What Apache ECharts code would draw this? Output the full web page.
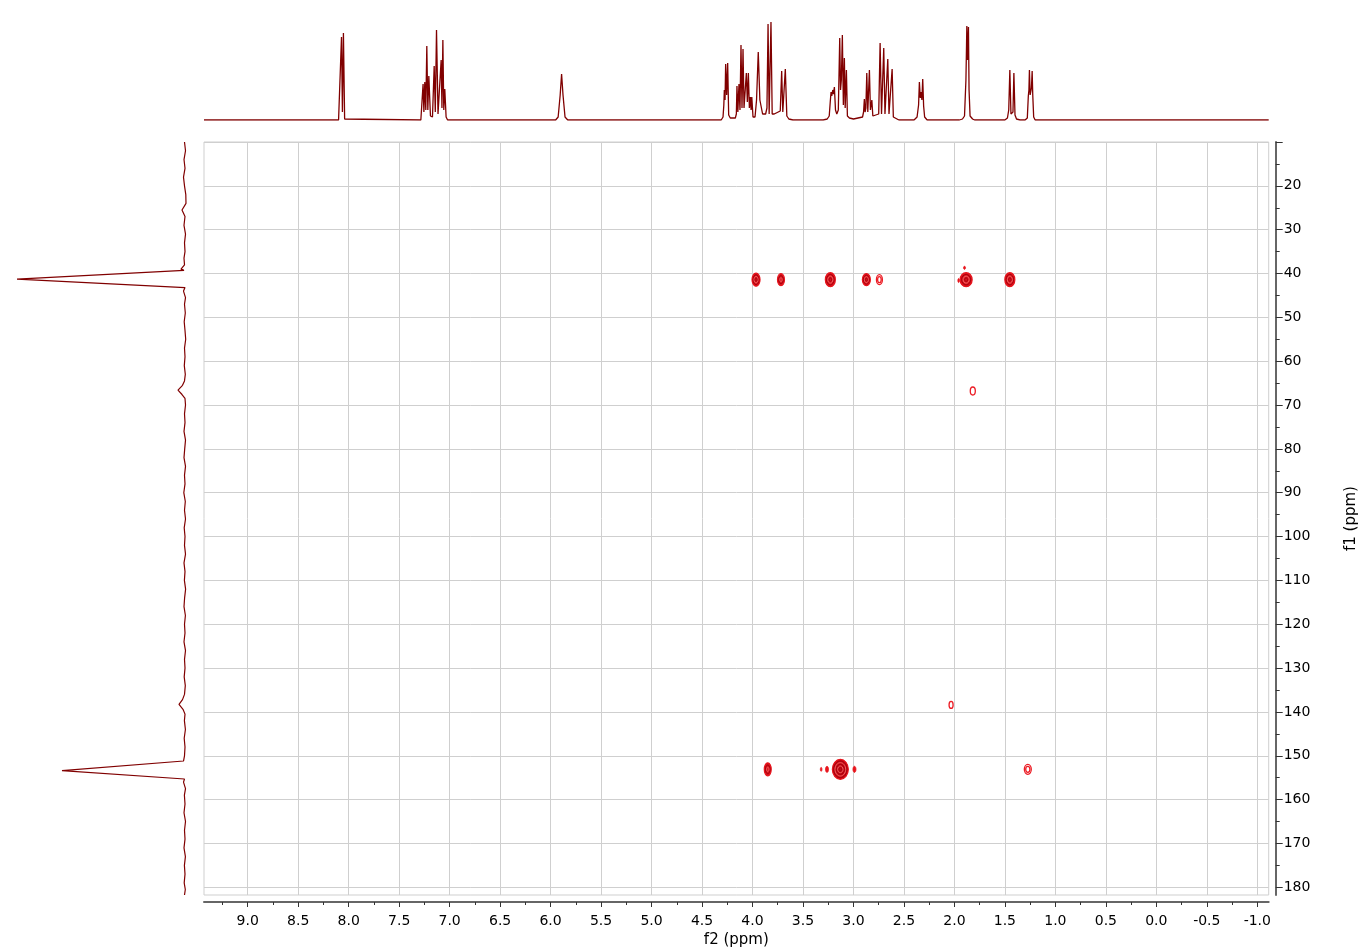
<!DOCTYPE html>
<html><head><meta charset="utf-8">
<script src="https://cdn.jsdelivr.net/npm/echarts@6/dist/echarts.min.js"></script>
<style>html,body{margin:0;padding:0;background:#fff}#c{width:1360px;height:949px}</style>
</head><body><div id="c"></div>
<script>
// ---- axis ranges / ticks ----
const f2Range = [-1.113, 9.433];
const f1Range = [10, 181.76];
const f2Ticks = [9.0,8.5,8.0,7.5,7.0,6.5,6.0,5.5,5.0,4.5,4.0,3.5,3.0,2.5,2.0,1.5,1.0,0.5,0.0,-0.5,-1.0];
const f2MinorTicks = [9.25,8.75,8.25,7.75,7.25,6.75,6.25,5.75,5.25,4.75,4.25,3.75,3.25,2.75,2.25,1.75,1.25,0.75,0.25,-0.25,-0.75];
const f1Ticks = [10,20,30,40,50,60,70,80,90,100,110,120,130,140,150,160,170,180];
const f1Labels = [20,30,40,50,60,70,80,90,100,110,120,130,140,150,160,170,180];
const f1MinorTicks = [15,25,35,45,55,65,75,85,95,105,115,125,135,145,155,165,175];

// ---- 1H projection (top): [ppm, intensity] vertices ----
const protonTrace = [
 [9.433,0],[8.10,0],[8.085,1],[8.071,83],[8.062,8],[8.052,87],[8.040,1],[8.025,0],
 [7.285,0],[7.272,2],[7.263,36],[7.255,8],[7.246,38],[7.236,10],[7.226,74],[7.216,10],[7.206,44],[7.19,4],[7.17,3],[7.153,54],[7.142,8],[7.130,90],[7.115,6],[7.100,4],[7.084,60],[7.076,12],[7.067,80],[7.058,10],[7.048,31],[7.035,3],[7.02,0],
 [5.95,0],[5.925,3],[5.905,25],[5.891,46],[5.877,25],[5.857,3],[5.83,0],
 [4.31,0],[4.292,3],[4.284,15],[4.279,30],[4.272,20],[4.266,56],[4.256,25],[4.246,57],[4.236,5],[4.22,2],
 [4.17,2],[4.160,6],[4.154,34],[4.145,8],[4.134,36],[4.124,10],[4.114,75],[4.104,12],[4.094,71],[4.084,12],[4.075,14],[4.061,47],[4.051,18],[4.041,47],[4.031,12],[4.021,23],[4.014,10],[4.007,23],[3.995,3],[3.975,3],[3.960,20],[3.943,68],[3.927,20],[3.900,6],[3.870,6],[3.857,12],[3.846,96],[3.835,6],[3.827,8],[3.817,98],[3.805,6],[3.785,6],[3.725,9],[3.711,49],[3.700,8],[3.690,7],[3.675,51],[3.660,4],[3.64,1],[3.60,0],
 [3.30,0],[3.26,1],[3.240,4],[3.230,18],[3.222,28],[3.215,24],[3.205,30],[3.197,26],[3.189,33],[3.178,10],[3.165,6],[3.150,10],[3.136,82],[3.128,30],[3.120,40],[3.110,85],[3.100,15],[3.090,62],[3.082,12],[3.070,50],[3.060,4],[3.040,2],
 [3.00,1],[2.910,3],[2.900,8],[2.892,21],[2.885,8],[2.877,12],[2.868,47],[2.858,8],[2.850,10],[2.842,50],[2.832,10],[2.818,20],[2.808,4],[2.790,3],[2.750,6],[2.736,77],[2.722,6],[2.712,6],[2.700,72],[2.688,6],[2.675,6],[2.660,61],[2.648,6],[2.632,4],[2.617,51],[2.605,3],[2.590,1],[2.55,0],
 [2.40,0],[2.370,3],[2.355,15],[2.347,38],[2.338,22],[2.330,28],[2.322,20],[2.314,41],[2.305,14],[2.295,3],[2.27,0],
 [1.95,0],[1.920,1],[1.900,4],[1.886,40],[1.880,75],[1.877,94],[1.870,60],[1.861,93],[1.855,30],[1.845,4],[1.82,1],[1.80,0],
 [1.50,0],[1.475,2],[1.462,10],[1.451,50],[1.440,6],[1.430,4],[1.420,8],[1.411,47],[1.400,5],[1.385,1],[1.35,0],
 [1.30,0],[1.278,2],[1.268,24],[1.262,30],[1.257,50],[1.250,25],[1.244,23],[1.237,32],[1.230,49],[1.224,25],[1.215,3],[1.20,0],
 [-1.113,0]
];

// ---- 13C projection (left): [intensity, ppm] vertices ----
const carbonTrace = [
 [0.5,10],[-0.5,12],[1,14],[0,16],[1.5,18],[0.5,20],[-0.8,22],[-1,24],[3,25.5],[0,27],[1,29],[-0.5,31],[0.5,33],[0,35],[1,36.5],[0.5,38],[4,39],[1,39.3],[2,39.7],
 [168,41.3],[0,43.2],[1.5,44],[-0.5,45.5],[0.5,47],[-0.3,49],[0.8,51],[0,53],[-0.7,55],[0.5,57],[0,59],[0.7,61],[-0.3,63],[0.5,64.5],[2.5,65.5],[7,66.6],[3,67.6],[0,68.5],
 [-0.5,70],[0.5,72],[0,74],[1,76],[-0.5,78],[0.3,80],[1,82],[-0.5,84],[0.5,86],[0,88],[1.2,90],[-0.3,92],[0.5,94],[-0.5,96],[0.8,98],[0,100],[0.5,102],[-0.5,104],[1,106],[0,108],[0.6,110],[-0.6,112],[0.4,114],[1,116],[-0.4,118],[0.5,120],[0,122],[1,124],[-0.5,126],[0.5,128],[0,130],[0.8,132],[-0.3,134],[0.5,136],[2.5,137.2],[6,138.3],[2,139.4],[0,140.5],
 [0.6,142],[-0.4,144],[0.8,146],[0,148],[0.5,150],[1.5,151.2],[123,153.4],[0.5,155.3],[1.5,156],[-0.5,157.5],[0.6,159],[0,161],[1,163],[-0.5,165],[0.5,167],[0,169],[1,171],[-0.4,173],[0.6,175],[0,177],[0.8,179],[-0.3,180.5],[0.5,181.76]
];

// ---- 2D cross peaks: [f2 ppm, f1 ppm, width f2 (ppm), width f1 (ppm), contour levels] ----
const crossPeaks = [
 [3.965,41.4,0.079,2.97,4],
 [3.718,41.4,0.069,2.74,3],
 [3.229,41.4,0.099,3.19,4],
 [2.872,41.4,0.079,2.74,4],
 [2.743,41.4,0.059,2.28,2],
 [1.884,41.4,0.119,3.19,4],
 [1.451,41.4,0.099,3.19,4],
 [3.849,153.1,0.069,2.97,3],
 [3.130,153.1,0.158,4.56,6],
 [1.273,153.1,0.069,2.28,2],
 [1.818,66.8,0.050,1.83,1],
 [2.033,138.4,0.040,1.60,1]
];
// small fragments around strong peaks
const crossFragments = [
 [1.900,38.7,0.02,0.7],[1.958,41.6,0.015,0.9],
 [3.320,153.1,0.015,0.9],[3.262,153.1,0.03,1.4],[2.990,153.1,0.03,1.4]
];

const font = 'DejaVu Sans';
const chart = echarts.init(document.getElementById('c'), null, {renderer:'canvas'});

function renderPeak(params, api) {
  const c = api.coord([api.value(0), api.value(1)]);
  const s = api.size([api.value(2), api.value(3)]);
  const n = api.value(4);
  const rx = s[0]/2, ry = s[1]/2;
  const children = [];
  if (n >= 3) {
    children.push({type:'ellipse', shape:{cx:c[0], cy:c[1], rx:rx, ry:ry},
      style:{fill: n >= 5 ? '#c80c14' : '#d8141c', stroke:'#e8141c', lineWidth:1.2}});
    for (let i = 1; i < n; i++) {
      const f = 1 - i / n;
      children.push({type:'ellipse', shape:{cx:c[0], cy:c[1], rx:rx*f, ry:ry*f},
        style:{fill:null, stroke: i % 2 ? '#a8000e' : '#f06060', lineWidth:1}});
    }
  } else {
    for (let i = 0; i < n; i++) {
      const f = 1 - i / (n + 0.5);
      children.push({type:'ellipse', shape:{cx:c[0], cy:c[1], rx:rx*f, ry:ry*f},
        style:{fill:null, stroke:'#ec1c24', lineWidth:1.3}});
    }
  }
  return {type:'group', children};
}
function renderFrag(params, api) {
  const c = api.coord([api.value(0), api.value(1)]);
  const s = api.size([api.value(2), api.value(3)]);
  return {type:'ellipse', shape:{cx:c[0], cy:c[1], rx:Math.max(s[0]/2,0.8), ry:s[1]/2},
    style:{fill:'#e8141c', stroke:'#e8141c', lineWidth:0.8}};
}

const axisLineStyle = {color:'#666', width:2};
const tickStyle = {color:'#333', width:1};
const labelStyle = {color:'#000', fontFamily:font, fontSize:14};

chart.setOption({
  animation:false,
  backgroundColor:'#fff',
  grid:[
    {left:204, right:91.3, top:142, bottom:54, show:true, borderColor:'#cfcfcf', borderWidth:1, backgroundColor:'#fff', containLabel:false, outerBoundsMode:'none'},
    {left:204, right:91.3, top:20, bottom:829, containLabel:false, outerBoundsMode:'none'},
    {left:0, right:1175, top:142, bottom:54, containLabel:false, outerBoundsMode:'none'}
  ],
  xAxis:[
    {type:'value', gridIndex:0, min:f2Range[0], max:f2Range[1], inverse:true, position:'bottom', offset:7,
     axisLine:{show:true, onZero:false, lineStyle:axisLineStyle},
     axisTick:{show:true, length:5, lineStyle:tickStyle, customValues:f2Ticks},
     axisLabel:{show:true, margin:12, formatter:v=>v.toFixed(1), customValues:f2Ticks, ...labelStyle},
     splitLine:{show:true, lineStyle:{color:'#cfcfcf', width:1}},
     name:'f2 (ppm)', nameLocation:'middle', nameGap:30,
     nameTextStyle:{color:'#000', fontFamily:font, fontSize:15}},
    {type:'value', gridIndex:0, min:f2Range[0], max:f2Range[1], inverse:true, position:'bottom', offset:7,
     axisLine:{show:false, onZero:false},
     axisTick:{show:true, length:3, lineStyle:tickStyle, customValues:f2MinorTicks},
     axisLabel:{show:false}, splitLine:{show:false}},
    {type:'value', gridIndex:1, min:f2Range[0], max:f2Range[1], inverse:true, show:false},
    {type:'value', gridIndex:2, min:0, max:185, inverse:true, show:false}
  ],
  yAxis:[
    {type:'value', gridIndex:0, min:f1Range[0], max:f1Range[1], inverse:true, position:'right', offset:7,
     axisLine:{show:true, onZero:false, lineStyle:axisLineStyle},
     axisTick:{show:true, length:7, lineStyle:tickStyle, customValues:f1Ticks},
     axisLabel:{show:true, margin:8, customValues:f1Labels, ...labelStyle},
     splitLine:{show:true, lineStyle:{color:'#cfcfcf', width:1}},
     name:'f1 (ppm)', nameLocation:'middle', nameGap:68, nameRotate:90,
     nameTextStyle:{color:'#000', fontFamily:font, fontSize:15}},
    {type:'value', gridIndex:0, min:f1Range[0], max:f1Range[1], inverse:true, position:'right', offset:7,
     axisLine:{show:false, onZero:false},
     axisTick:{show:true, length:4, lineStyle:tickStyle, customValues:f1MinorTicks},
     axisLabel:{show:false}, splitLine:{show:false}},
    {type:'value', gridIndex:1, min:0, max:100, show:false},
    {type:'value', gridIndex:2, min:f1Range[0], max:f1Range[1], inverse:true, show:false}
  ],
  series:[
    {type:'custom', xAxisIndex:0, yAxisIndex:0, data:crossPeaks, renderItem:renderPeak, clip:true, z:5},
    {type:'custom', xAxisIndex:0, yAxisIndex:0, data:crossFragments, renderItem:renderFrag, clip:true, z:5},
    {type:'line', xAxisIndex:2, yAxisIndex:2, data:protonTrace, showSymbol:false, symbol:'none',
     lineStyle:{color:'#800000', width:1.3}, z:3},
    {type:'line', xAxisIndex:3, yAxisIndex:3, data:carbonTrace, showSymbol:false, symbol:'none',
     lineStyle:{color:'#800000', width:1.2}, clip:false, z:3}
  ]
});
</script>
</body></html>
